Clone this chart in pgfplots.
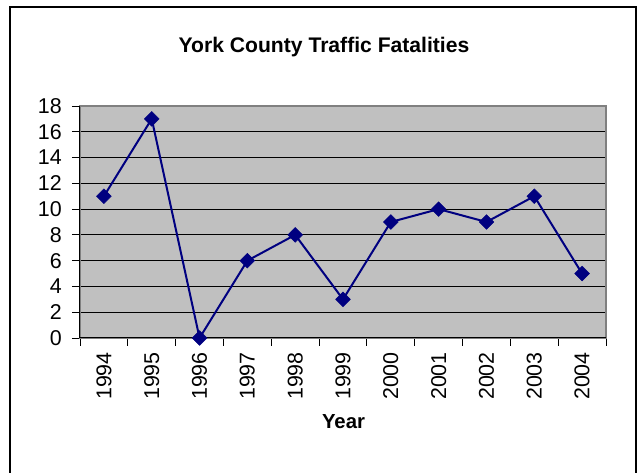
\documentclass[border=0pt]{standalone}
\usepackage{pgfplots}
\pgfplotsset{compat=1.18}
\usepackage{fontspec}
\setmainfont{Liberation Sans}
\definecolor{plotbg}{RGB}{192,192,192}
\definecolor{navyline}{RGB}{0,0,128}
\definecolor{borderg}{RGB}{128,128,128}
\begin{document}
\begin{tikzpicture}[x=1bp,y=1bp]
\begin{axis}[
  at={(0,0)}, anchor=south west,
  scale only axis,
  width=526bp, height=232bp,
  xmin=-0.5, xmax=10.5,
  ymin=0, ymax=18,
  ytick={0,2,...,18},
  xtick={0,...,10},
  xticklabels={1994,1995,1996,1997,1998,1999,2000,2001,2002,2003,2004},
  minor xtick={-0.5,0.5,...,10.5},
  tick pos=left,
  tick align=outside,
  major tick length=8bp,
  minor tick length=8bp,
  every tick/.style={black, line width=0.9bp},
  every major x tick/.append style={draw=none},
  ymajorgrids,
  grid style={black, line width=0.8bp},
  axis background/.style={fill=plotbg},
  axis line style={draw=borderg, line width=1.5bp},
  /pgf/number format/assume math mode=true,
  tick label style={font=\fontsize{21.5}{22}\selectfont},
  yticklabel style={anchor=east, inner sep=0pt, xshift=-10bp},
  xticklabel style={yshift=-6bp, rotate=90, anchor=east, inner sep=0pt},
  clip=false,
]
\addplot[navyline, line width=2bp, mark=square*, mark size=5.2bp,
  mark options={rotate=45, fill=navyline, draw=navyline, line width=0.5bp}]
  coordinates {(0,11) (1,17) (2,0) (3,6) (4,8) (5,3) (6,9) (7,10) (8,9) (9,11) (10,5)};
\draw[black, line width=1bp] (rel axis cs:0,1) -- (rel axis cs:0,0) -- (rel axis cs:1,0);
\end{axis}
\node[anchor=base, font=\fontsize{21.2}{22}\selectfont\bfseries, inner sep=0pt] at (244,285) {York County Traffic Fatalities};
\node[anchor=base, font=\fontsize{20.4}{21}\selectfont\bfseries, inner sep=0pt] at (263.5,-91) {Year};
\draw[black, line width=1.1bp] (-70,-200) -- (-70,331) -- (556,331) -- (556,-200);
\pgfresetboundingbox
\useasboundingbox (-80,-135) rectangle (557,338);
\end{tikzpicture}
\end{document}
